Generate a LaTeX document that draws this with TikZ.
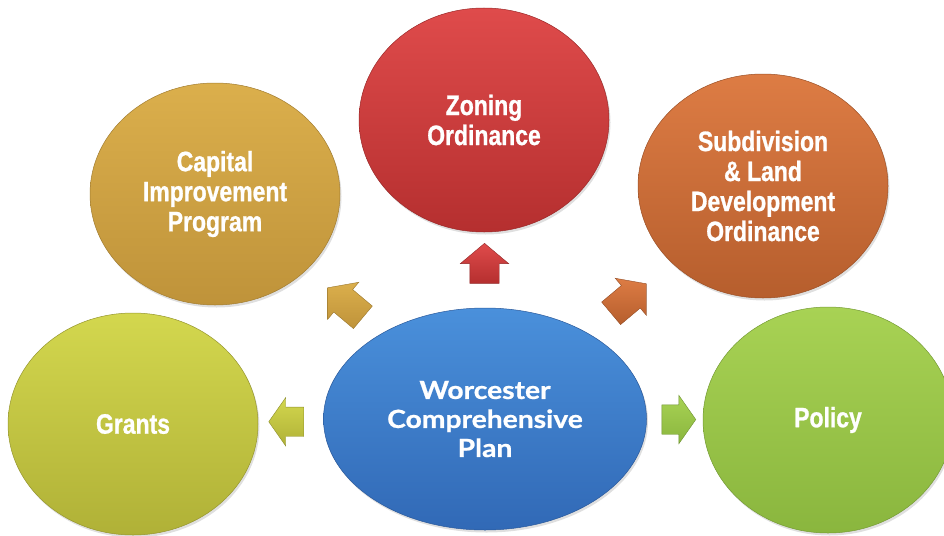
\documentclass[tikz,border=0pt]{standalone}
\usepackage{fontspec}
\usetikzlibrary{shapes.geometric,shapes.arrows,calc,shadows}
\newfontfamily\bubblefont[FakeStretch=0.82, BoldFeatures={FakeBold=0.9}]{Liberation Sans}
\newfontfamily\hubfont[FakeStretch=1.13, BoldFeatures={FakeBold=0.9}]{Lato}
\definecolor{paletteRedTop}{HTML}{DF4B4B}
\definecolor{paletteRedBot}{HTML}{B52F2F}
\definecolor{paletteGoldTop}{HTML}{DBAF4C}
\definecolor{paletteGoldBot}{HTML}{BF933A}
\definecolor{paletteOrangeTop}{HTML}{DD7C44}
\definecolor{paletteOrangeBot}{HTML}{B65E2D}
\definecolor{paletteLimeTop}{HTML}{D3D74E}
\definecolor{paletteLimeBot}{HTML}{B0B137}
\definecolor{paletteGreenTop}{HTML}{A8D254}
\definecolor{paletteGreenBot}{HTML}{8AB63E}
\definecolor{paletteBlueTop}{HTML}{4A90DB}
\definecolor{paletteBlueBot}{HTML}{3169B6}

\begin{document}
\begin{tikzpicture}[
  x=1pt, y=1pt,
  bubble/.style 2 args={ellipse, minimum width=250pt, minimum height=224pt, inner sep=0pt, align=center, text=white,
    top color=#1, bottom color=#2, draw=#2!85!black, line width=0.5pt,
    drop shadow={opacity=0.25, shadow xshift=1.5pt, shadow yshift=-2.5pt},
    font=\bubblefont\bfseries\fontsize{28}{30}\selectfont},
  hub/.style={bubble={paletteBlueTop}{paletteBlueBot}, minimum width=323pt, minimum height=222pt,
    font=\hubfont\bfseries\fontsize{25}{29}\selectfont},
  blockarrow/.style 2 args={single arrow, inner xsep=0pt, inner ysep=14.5pt, single arrow head extend=9.5pt,
    single arrow tip angle=100, minimum height=40pt, top color=#1, bottom color=#2, draw=#2!80!black, line width=0.4pt},
]
\clip (0,0) rectangle (944,-535);
\useasboundingbox (0,0) rectangle (944,-535);

% the plan in the middle, the five documents round it
\node[hub] (plan) at (485,-419) {Worcester\\Comprehensive\\Plan};
\node[bubble={paletteRedTop}{paletteRedBot}] (zoning) at (484,-120) {Zoning\\Ordinance};
\node[bubble={paletteGoldTop}{paletteGoldBot}, minimum height=222pt] (capital) at (215,-194) {Capital\\Improvement\\Program};
\node[bubble={paletteOrangeTop}{paletteOrangeBot}] (subdiv) at (763,-186) {Subdivision\\\& Land\\Development\\Ordinance};
\node[bubble={paletteLimeTop}{paletteLimeBot}, minimum height=222pt] (grants) at (133,-424) {Grants};
\node[bubble={paletteGreenTop}{paletteGreenBot}, minimum height=226pt] (policy) at (828,-420) {Policy};

% block arrows pointing out of the plan
\node[blockarrow={paletteRedTop}{paletteRedBot}, rotate=90] (toZoning) at ($(plan)!0.50!(zoning)$) {};
\node[blockarrow={paletteGoldTop}{paletteGoldBot}, rotate=140, minimum height=46pt] (toCapital) at ($(plan)!0.50!(capital)$) {};
\node[blockarrow={paletteOrangeTop}{paletteOrangeBot}, rotate=40, minimum height=46pt] (toSubdiv) at ($(plan)!0.50!(subdiv)$) {};
\node[blockarrow={paletteLimeTop}{paletteLimeBot}, rotate=180, minimum height=35pt, single arrow tip angle=110] (toGrants) at ($(plan)!0.55!(grants)$) {};
\node[blockarrow={paletteGreenTop}{paletteGreenBot}, minimum height=34pt, single arrow tip angle=110] (toPolicy) at ($(plan)!0.55!(policy)$) {};
\end{tikzpicture}
\end{document}
